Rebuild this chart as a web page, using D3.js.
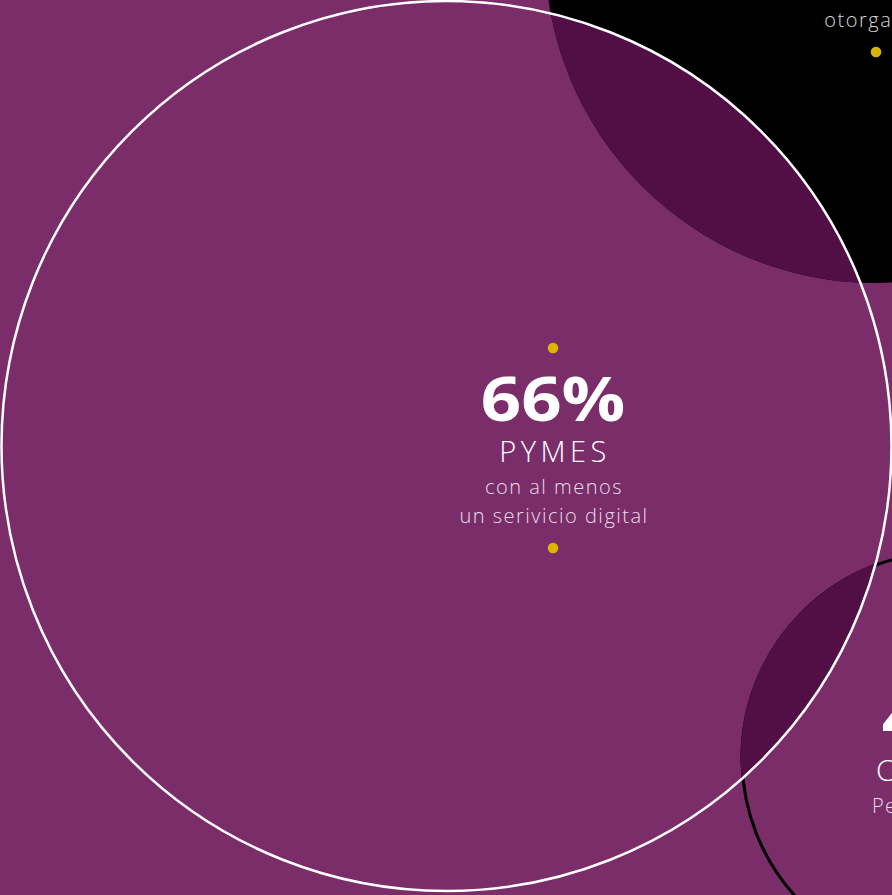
<!DOCTYPE html>
<html>
<head>
<meta charset="utf-8">
<script src="https://cdn.jsdelivr.net/npm/d3@7/dist/d3.min.js"></script>
<style>
  body { margin: 0; background: #7b2d6a; overflow: hidden; }
  .num { font-family: "Open Sans", sans-serif; font-weight: 700; fill: #fff; }
  .label { font-family: "Open Sans", sans-serif; font-weight: 300; fill: #fff; letter-spacing: 4.5px; }
  .desc { font-family: "Open Sans", sans-serif; font-weight: 300; fill: #fff; fill-opacity: 0.85; letter-spacing: 1.5px; }
</style>
</head>
<body>
<div id="chart"></div>
<script>
// text of each bubble (only what shows in the frame)
var bubbleIds = ["pymes", "otorgados", "personas"];
var bubbleNumbers = ["66%", "", "45%"];
var bubbleLabels = ["PYMES", "", "CLIENTES"];
var bubbleLines = [
    ["con al menos", "un serivicio digital"],
    ["", "otorgados"],
    ["Personas físicas"]
];

var width = 892;
var height = 895;

var colors = {
    bg: "#7b2d6a",
    overlap: "#520f45",
    dot: "#dab600"
};

// where each bubble sits in the frame
var layout = [
    { cx: 446.5, cy: 446, r: 445, fill: "none", stroke: "#fff", strokeWidth: 2.5, tx: 553, ty: 448 },
    { cx: 876, cy: -48, r: 331, fill: "#000", stroke: "none", strokeWidth: 0, tx: 876, ty: -48 },
    { cx: 948, cy: 758, r: 206, fill: "none", stroke: "#000", strokeWidth: 3, tx: 954, ty: 767 }
];

var bubbles = bubbleIds.map(function (id, i) {
    return {
        id: id,
        number: bubbleNumbers[i],
        label: bubbleLabels[i],
        lines: bubbleLines[i],
        pos: layout[i]
    };
});

var svg = d3.select('#chart')
    .append('svg')
    .attr('width', width)
    .attr('height', height);

svg.append('rect')
    .attr('width', width)
    .attr('height', height)
    .attr('fill', colors.bg);

var main = bubbles[0];

svg.append('clipPath')
    .attr('id', 'main-clip')
    .append('circle')
    .attr('cx', main.pos.cx)
    .attr('cy', main.pos.cy)
    .attr('r', main.pos.r);

var others = bubbles.slice(1);

// the smaller bubbles, under the big one
svg.append('g')
    .selectAll('circle')
    .data(others)
    .enter()
    .append('circle')
    .attr('cx', function (d) { return d.pos.cx; })
    .attr('cy', function (d) { return d.pos.cy; })
    .attr('r', function (d) { return d.pos.r; })
    .attr('fill', function (d) { return d.pos.fill; })
    .attr('stroke', function (d) { return d.pos.stroke; })
    .attr('stroke-width', function (d) { return d.pos.strokeWidth; });

// where they run under the big bubble it darkens them
svg.append('g')
    .attr('clip-path', 'url(#main-clip)')
    .selectAll('circle')
    .data(others)
    .enter()
    .append('circle')
    .attr('cx', function (d) { return d.pos.cx; })
    .attr('cy', function (d) { return d.pos.cy; })
    .attr('r', function (d) { return d.pos.r + d.pos.strokeWidth / 2; })
    .attr('fill', colors.overlap);

svg.append('circle')
    .attr('cx', main.pos.cx)
    .attr('cy', main.pos.cy)
    .attr('r', main.pos.r)
    .attr('fill', 'none')
    .attr('stroke', main.pos.stroke)
    .attr('stroke-width', main.pos.strokeWidth);

// text blocks
var numberStretch = 1.16;

var blocks = svg.append('g')
    .selectAll('g')
    .data(bubbles)
    .enter()
    .append('g')
    .attr('transform', function (d) {
        return 'translate(' + d.pos.tx + ',' + d.pos.ty + ')';
    });

blocks.append('circle')
    .attr('cy', -100)
    .attr('r', 5.3)
    .attr('fill', colors.dot);

blocks.append('circle')
    .attr('cy', 100)
    .attr('r', 5.3)
    .attr('fill', colors.dot);

blocks.append('text')
    .attr('class', 'num')
    .attr('text-anchor', 'middle')
    .attr('transform', 'translate(0,-27) scale(' + numberStretch + ',1)')
    .style('font-size', '61px')
    .text(function (d) { return d.number; });

blocks.append('text')
    .attr('class', 'label')
    .attr('text-anchor', 'middle')
    .attr('x', 2)
    .attr('y', 14)
    .style('font-size', '29px')
    .text(function (d) { return d.label; });

blocks.each(function (d) {
    d3.select(this).selectAll('.desc')
        .data(d.lines)
        .enter()
        .append('text')
        .attr('class', 'desc')
        .attr('text-anchor', 'middle')
        .attr('x', 1)
        .attr('y', function (line, i) { return 46 + i * 29; })
        .style('font-size', '20px')
        .text(function (line) { return line; });
});
</script>
</body>
</html>
